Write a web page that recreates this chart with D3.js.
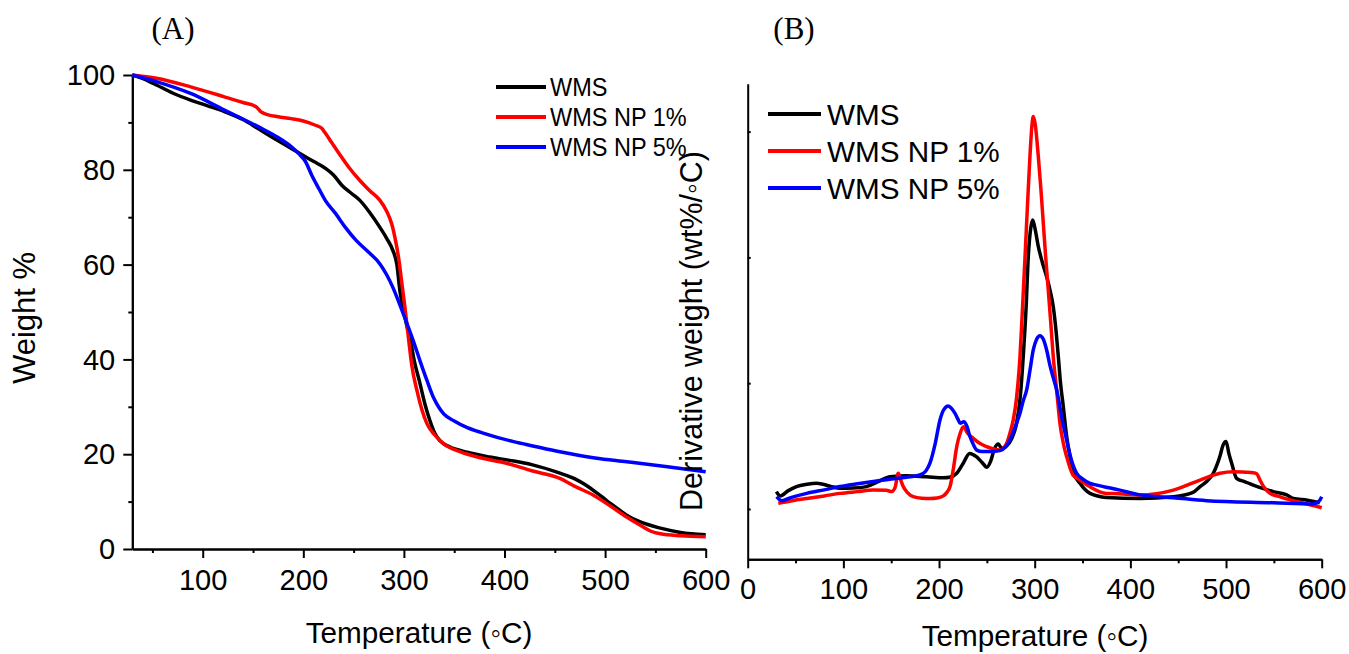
<!DOCTYPE html>
<html>
<head>
<meta charset="utf-8">
<script src="https://cdn.jsdelivr.net/npm/d3@7"></script>
<style>
  body { margin: 0; background: #fff; }
  svg { display: block; }
  text { font-family: "Liberation Sans", Arial, sans-serif; fill: #000; }
</style>
</head>
<body>
<svg id="chart" width="1349" height="654"></svg>
<script>
// ---- series ----
const seriesNames = ["WMS", "WMS NP 1%", "WMS NP 5%"];
const seriesColors = ["#000000", "#ff0000", "#0000ff"];

// (A) TGA: temperature (°C) and remaining weight (%)
const tgaWmsT = [30, 40, 54, 70, 88, 105, 121.5, 140, 155, 172, 188, 200, 210, 222, 230, 238.5, 248, 256, 266, 276, 283, 289, 293, 296, 300, 303, 306, 310, 316, 321, 326, 331, 336, 345, 363, 385, 405, 427, 455, 470, 480, 490, 497, 502, 510, 521, 535, 555, 575, 600];
const tgaWmsW = [100, 99.3, 97.9, 96.2, 94.7, 93.5, 92.3, 90.6, 88.7, 86.5, 84.5, 83, 81.8, 80.3, 78.9, 76.7, 75, 73.6, 71, 67.9, 65.5, 63, 60, 54.5, 50, 47, 44.7, 40, 34.9, 30.5, 27, 24.3, 22.8, 21.6, 20.4, 19.4, 18.7, 17.8, 16.0, 14.8, 13.6, 12.1, 11.0, 10.1, 8.9, 7.2, 5.7, 4.4, 3.5, 3.0];

const tgaNp1T = [30, 54, 88, 121.5, 140, 153, 158, 165, 175, 188, 200, 212, 218, 222, 228, 235.7, 245, 256, 266, 276, 283, 288, 291, 295, 298, 301, 304, 308, 313, 318, 323, 330, 339.6, 355, 377, 400, 427, 455, 470, 488, 505, 521, 535, 545, 555, 575, 600];
const tgaNp1W = [100, 99.3, 97.5, 95.4, 94.2, 93.3, 92.2, 91.6, 91.2, 90.8, 90.3, 89.4, 88.8, 87.7, 85.8, 83.4, 80.6, 77.8, 75.6, 73.6, 71.2, 68.5, 65.8, 61, 56, 51, 45.5, 38.5, 33.4, 29.3, 26.4, 24.2, 22.2, 20.6, 19.2, 18.2, 16.5, 14.9, 13.2, 11.4, 9.1, 6.8, 5.0, 3.8, 3.2, 2.8, 2.6];

const tgaNp5T = [30, 54, 88, 121.5, 155, 175, 188.5, 196, 202, 208.5, 215.5, 222, 232, 242, 252.5, 265, 276, 283, 289, 296, 303, 310, 316, 323, 329.5, 335, 339.6, 350, 363, 378, 393.6, 410, 427, 455, 490, 521.5, 560, 600];
const tgaNp5W = [100, 98.6, 96.1, 92.6, 89.1, 86.8, 84.8, 83.3, 81.8, 78.8, 76.0, 73.5, 70.8, 67.8, 65.1, 62.6, 60.2, 57.8, 55.2, 51.5, 47.6, 43.5, 39.7, 35.5, 31.9, 29.8, 28.5, 27.0, 25.6, 24.5, 23.5, 22.6, 21.8, 20.5, 19.2, 18.4, 17.4, 16.3];

// (B) DTG: temperature (°C) and derivative weight (wt%/°C)
const dtgWmsT = [30, 34, 42, 51, 62, 72, 86, 96.5, 110, 124, 137, 149, 166, 187, 205, 211, 218.5, 225, 232, 239, 245, 250, 254, 258, 262, 265.5, 270, 276, 281, 285, 288, 291, 293.3, 296, 297.9, 300, 303.8, 308, 312.5, 316, 319.4, 322, 324.7, 327, 329.9, 333, 336.9, 340, 347.3, 357.8, 375, 410, 445, 465, 472.8, 480, 486.7, 491, 494, 497, 500, 503, 505.9, 511, 520, 528.5, 540, 549.4, 563.4, 570.3, 585, 598];
const dtgWmsV = [0.069, 0.052, 0.072, 0.089, 0.098, 0.102, 0.091, 0.082, 0.083, 0.089, 0.110, 0.128, 0.132, 0.128, 0.124, 0.126, 0.142, 0.18, 0.221, 0.208, 0.185, 0.166, 0.19, 0.24, 0.258, 0.241, 0.248, 0.28, 0.34, 0.45, 0.605, 0.80, 1.003, 1.12, 1.149, 1.12, 1.043, 0.98, 0.923, 0.87, 0.804, 0.72, 0.605, 0.5, 0.407, 0.3, 0.208, 0.15, 0.102, 0.062, 0.046, 0.042, 0.049, 0.065, 0.089, 0.11, 0.142, 0.18, 0.215, 0.255, 0.268, 0.22, 0.182, 0.122, 0.108, 0.095, 0.08, 0.069, 0.056, 0.042, 0.035, 0.025];

const dtgNp1T = [32, 45, 61.7, 80, 96.5, 115, 131, 145, 150.5, 154, 157.4, 160, 162.6, 167, 173, 182, 190.5, 198, 204.5, 208, 211.5, 215, 218.5, 222, 225.4, 230, 235.8, 242, 249.8, 256, 263.7, 270.7, 274, 277.6, 281, 284.6, 287, 289.9, 293, 295, 297, 298.5, 300.5, 303.8, 306.5, 309, 311.5, 314.2, 316.8, 319.4, 323, 326.4, 330, 333.4, 340, 347.3, 357, 375, 382, 410, 445, 472.8, 493.7, 507.6, 520, 528.5, 532, 535.5, 540, 546, 555, 567, 585, 600];
const dtgNp1V = [0.023, 0.032, 0.042, 0.052, 0.062, 0.069, 0.075, 0.074, 0.069, 0.085, 0.142, 0.115, 0.089, 0.065, 0.049, 0.043, 0.042, 0.044, 0.052, 0.065, 0.089, 0.16, 0.248, 0.30, 0.327, 0.30, 0.281, 0.262, 0.248, 0.24, 0.234, 0.261, 0.30, 0.354, 0.44, 0.605, 0.78, 1.003, 1.25, 1.40, 1.52, 1.56, 1.53, 1.40, 1.27, 1.135, 1.0, 0.87, 0.74, 0.605, 0.47, 0.34, 0.26, 0.208, 0.135, 0.115, 0.09, 0.062, 0.062, 0.056, 0.075, 0.115, 0.142, 0.148, 0.146, 0.144, 0.14, 0.115, 0.085, 0.062, 0.05, 0.036, 0.02, 0.005];

const dtgNp5T = [30.3, 35.5, 45, 61.7, 80, 96.5, 115, 131, 150, 166, 180, 186, 190.5, 196, 201, 205, 209.7, 213, 216.7, 220, 222, 226, 229, 232.4, 236, 239.4, 245, 253.3, 263.7, 269, 274, 280, 284.6, 288, 291.6, 295, 298.5, 302, 305.5, 309, 312.5, 316, 319.5, 323, 328, 333.4, 338, 343.9, 350, 357.8, 364.8, 389, 410, 445, 479.8, 549.4, 591, 597, 600];
const dtgNp5V = [0.049, 0.033, 0.045, 0.062, 0.076, 0.089, 0.10, 0.109, 0.119, 0.126, 0.135, 0.15, 0.182, 0.26, 0.354, 0.395, 0.409, 0.40, 0.38, 0.355, 0.341, 0.347, 0.33, 0.287, 0.255, 0.234, 0.228, 0.228, 0.232, 0.245, 0.274, 0.33, 0.38, 0.43, 0.473, 0.55, 0.632, 0.675, 0.689, 0.675, 0.632, 0.57, 0.52, 0.473, 0.37, 0.274, 0.2, 0.142, 0.12, 0.102, 0.095, 0.075, 0.056, 0.045, 0.033, 0.025, 0.02, 0.03, 0.049];

// ---- ticks ----
const tgaXMajor = [100, 200, 300, 400, 500, 600];
const tgaXMinor = [50, 150, 250, 350, 450, 550];
const tgaYMajor = [0, 20, 40, 60, 80, 100];
const tgaYMinor = [10, 30, 50, 70, 90];
const dtgXMajor = [0, 100, 200, 300, 400, 500, 600];
const dtgXMinor = [50, 150, 250, 350, 450, 550];
const dtgYTicks = [0, 0.5, 1.0, 1.5];

const svg = d3.select("#chart");
svg.append("rect").attr("width", 1349).attr("height", 654).attr("fill", "#fff");

// horizontally condensed text
function squeeze(sel, k) {
  sel.each(function () {
    const t = d3.select(this);
    const x = +t.attr("x") || 0;
    t.attr("x", 0).attr("transform", `translate(${x},0) scale(${k},1)`);
  });
}
function label(g, txt, x, y, size, k, anchor, family) {
  const t = g.append("text")
    .attr("transform", `translate(${x},${y}) scale(${k},1)`)
    .attr("text-anchor", anchor)
    .style("font-size", size + "px")
    .text(txt);
  if (family) t.style("font-family", family);
  return t;
}
function styleAxis(g, fs) {
  g.select(".domain").attr("stroke", "#000").attr("stroke-width", 2);
  g.selectAll(".tick line").attr("stroke", "#000").attr("stroke-width", 2);
  g.selectAll(".tick text").style("font-size", fs + "px").attr("fill", "#000");
  g.attr("font-family", null);
}

// ================= Panel A =================
const xA = d3.scaleLinear().domain([30, 600]).range([132.3, 705.7]);
const yA = d3.scaleLinear().domain([0, 100]).range([549, 75]);
const gA = svg.append("g");

const axA_xMinor = gA.append("g").attr("transform", `translate(0,${yA(0)})`)
  .call(d3.axisBottom(xA).tickValues(tgaXMinor).tickSize(4).tickSizeOuter(0).tickFormat(""));
styleAxis(axA_xMinor, 30);
const axA_x = gA.append("g").attr("transform", `translate(0,${yA(0)})`)
  .call(d3.axisBottom(xA).tickValues(tgaXMajor).tickSize(9).tickSizeOuter(0).tickPadding(11).tickFormat(d3.format("d")));
styleAxis(axA_x, 30);
squeeze(axA_x.selectAll(".tick text"), 0.97);

const axA_yMinor = gA.append("g").attr("transform", `translate(${xA(30)},0)`)
  .call(d3.axisLeft(yA).tickValues(tgaYMinor).tickSize(4).tickSizeOuter(0).tickFormat(""));
styleAxis(axA_yMinor, 30);
const axA_y = gA.append("g").attr("transform", `translate(${xA(30)},0)`)
  .call(d3.axisLeft(yA).tickValues(tgaYMajor).tickSize(9).tickSizeOuter(0).tickPadding(8).tickFormat(d3.format("d")));
styleAxis(axA_y, 30);
squeeze(axA_y.selectAll(".tick text"), 0.97);

const tgaSeries = [
  { T: tgaWmsT, V: tgaWmsW },
  { T: tgaNp1T, V: tgaNp1W },
  { T: tgaNp5T, V: tgaNp5W }
];
const lineA = d3.line().x(d => xA(d[0])).y(d => yA(d[1])).curve(d3.curveMonotoneX);
tgaSeries.forEach((s, i) => {
  gA.append("path")
    .datum(s.T.map((t, j) => [t, s.V[j]]))
    .attr("d", lineA)
    .attr("fill", "none")
    .attr("stroke", seriesColors[i])
    .attr("stroke-width", 3.5)
    .attr("stroke-linejoin", "round");
});

// legend A
seriesNames.forEach((name, i) => {
  const y = 87 + i * 30;
  gA.append("line").attr("x1", 496).attr("x2", 546).attr("y1", y).attr("y2", y)
    .attr("stroke", seriesColors[i]).attr("stroke-width", 4);
  label(gA, name, 550, y + 9, 25, 0.94, "start");
});

label(gA, "(A)", 173, 39, 31, 1, "middle", "'Liberation Serif', 'Times New Roman', serif");
label(gA, "Temperature (\u25E6C)", 419, 643, 30, 0.99, "middle");
gA.append("text")
  .attr("transform", "translate(35,318) rotate(-90)")
  .attr("text-anchor", "middle")
  .style("font-size", "31px")
  .text("Weight %");

// ================= Panel B =================
const xB = d3.scaleLinear().domain([0, 600]).range([747.7, 1321.7]);
const yB = d3.scaleLinear().domain([-0.2, 1.69]).range([559.3, 83.8]);
const gB = svg.append("g");

const axB_xMinor = gB.append("g").attr("transform", `translate(0,${yB(-0.2)})`)
  .call(d3.axisBottom(xB).tickValues(dtgXMinor).tickSize(4).tickSizeOuter(0).tickFormat(""));
styleAxis(axB_xMinor, 30);
const axB_x = gB.append("g").attr("transform", `translate(0,${yB(-0.2)})`)
  .call(d3.axisBottom(xB).tickValues(dtgXMajor).tickSize(9).tickSizeOuter(0).tickPadding(9).tickFormat(d3.format("d")));
styleAxis(axB_x, 30);
squeeze(axB_x.selectAll(".tick text"), 0.97);

const axB_y = gB.append("g").attr("transform", `translate(${xB(0)},0)`)
  .call(d3.axisRight(yB).tickValues(dtgYTicks).tickSize(3).tickSizeOuter(0).tickFormat(""));
styleAxis(axB_y, 30);

const dtgSeries = [
  { T: dtgWmsT, V: dtgWmsV },
  { T: dtgNp1T, V: dtgNp1V },
  { T: dtgNp5T, V: dtgNp5V }
];
const lineB = d3.line().x(d => xB(d[0])).y(d => yB(d[1])).curve(d3.curveMonotoneX);
dtgSeries.forEach((s, i) => {
  gB.append("path")
    .datum(s.T.map((t, j) => [t, s.V[j]]))
    .attr("d", lineB)
    .attr("fill", "none")
    .attr("stroke", seriesColors[i])
    .attr("stroke-width", 3.5)
    .attr("stroke-linejoin", "round");
});

// legend B
seriesNames.forEach((name, i) => {
  const y = 114 + i * 37;
  gB.append("line").attr("x1", 768).attr("x2", 821).attr("y1", y).attr("y2", y)
    .attr("stroke", seriesColors[i]).attr("stroke-width", 4);
  label(gB, name, 827, y + 11, 30, 0.99, "start");
});

label(gB, "(B)", 794, 39, 31, 1, "middle", "'Liberation Serif', 'Times New Roman', serif");
label(gB, "Temperature (\u25E6C)", 1035, 646, 30, 0.99, "middle");
gB.append("text")
  .attr("transform", "translate(702,331) rotate(-90)")
  .attr("text-anchor", "middle")
  .style("font-size", "30.5px")
  .text("Derivative weight (wt%/\u25E6C)");
</script>
</body>
</html>
